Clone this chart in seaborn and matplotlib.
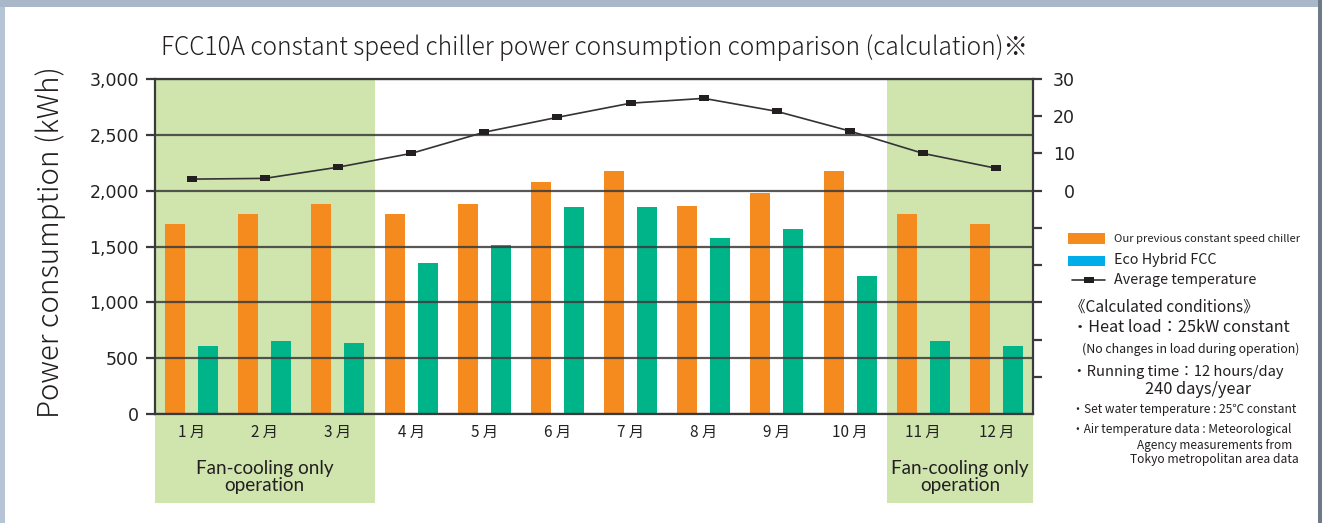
import numpy as np
import pandas as pd
import matplotlib
matplotlib.use("Agg")
import matplotlib.pyplot as plt
from matplotlib.patches import Rectangle
from matplotlib.lines import Line2D
from matplotlib.ticker import FuncFormatter, FixedLocator
import seaborn as sns

# ---------------- data ----------------
months = ["1月", "2月", "3月", "4月", "5月", "6月", "7月", "8月", "9月", "10月", "11月", "12月"]
prev_chiller = [1700, 1790, 1880, 1790, 1885, 2080, 2180, 1865, 1980, 2180, 1795, 1700]
eco_hybrid = [610, 650, 640, 1355, 1515, 1850, 1850, 1580, 1660, 1240, 650, 610]
avg_temp = [3.1, 3.3, 6.3, 10.0, 15.7, 19.7, 23.5, 24.8, 21.3, 16.0, 10.0, 6.0]
series_names = ["Our previous constant speed chiller", "Eco Hybrid FCC"]
temp_name = "Average temperature"
left_ticks = [0, 500, 1000, 1500, 2000, 2500, 3000]
right_ticks = [-50, -40, -30, -20, -10, 0, 10, 20, 30]
fan_only_months = [["1月", "3月"], ["11月", "12月"]]

# ---------------- style ----------------
sns.set_style("white")
CJK = ["Noto Sans CJK JP", "DejaVu Sans"]
plt.rcParams["font.family"] = CJK
plt.rcParams["axes.unicode_minus"] = False

ORANGE = "#f58a1f"
GREEN = "#00b48a"
BLUE = "#00ade9"
SHADE = "#d0e5ae"
DARK = "#231f20"
GRID = "#3a3a3a"

W, H = 1322, 523
fig = plt.figure(figsize=(W / 100, H / 100), dpi=100)
fig.patch.set_facecolor("white")


def px(x, y):
    return (x / W, 1 - y / H)


# frame strips of the screenshot
fig.add_artist(Rectangle((0, 0), 5 / W, 1, transform=fig.transFigure, color="#b6c5d5", lw=0, zorder=-5))
fig.add_artist(Rectangle((0, 1 - 7 / H), 1, 7 / H, transform=fig.transFigure, color="#a9b8c8", lw=0, zorder=-5))
fig.add_artist(Rectangle((1318 / W, 0), 4 / W, 1, transform=fig.transFigure, color="#6e7a88", lw=0, zorder=-5))

ax_l, ax_r, ax_t, ax_b = 155, 1033, 79, 414
ax = fig.add_axes([ax_l / W, 1 - ax_b / H, (ax_r - ax_l) / W, (ax_b - ax_t) / H])
ax.patch.set_alpha(0)

df = pd.DataFrame({
    "month": months * 2,
    "value": prev_chiller + eco_hybrid,
    "series": [series_names[0]] * len(months) + [series_names[1]] * len(months),
})
sns.barplot(data=df, x="month", y="value", hue="series", order=months,
            hue_order=series_names, palette=[ORANGE, GREEN], saturation=1,
            width=0.9, gap=0.39, ax=ax, legend=False, errorbar=None, zorder=1,
            edgecolor="none", linewidth=0)

# fan-cooling-only shaded zones (extend below the axis)
ext = -(503 - ax_b) / (ax_b - ax_t)
for first, last in fan_only_months:
    i0, i1 = months.index(first), months.index(last)
    span = ax.axvspan(i0 - 0.5, i1 + 0.5, ymin=ext, ymax=1, color=SHADE, lw=0, zorder=0)
    span.set_clip_on(False)
    ax.text((i0 + i1) / 2, -0.187, "Fan-cooling only\noperation", transform=ax.get_xaxis_transform(),
            ha="center", va="center", fontsize=13.6, family=["Lato", "DejaVu Sans"], color="#231f20",
            linespacing=0.98, zorder=3)

ax.set_ylim(0, 3000)
ax.yaxis.set_major_locator(FixedLocator(left_ticks))
ax.yaxis.set_major_formatter(FuncFormatter(lambda v, p: f"{v:,.0f}"))
ax.set_xticks(range(len(months)))
ax.set_xticklabels([m.replace("月", " 月") for m in months])
ax.set_xlabel("")
ax.set_ylabel("")
ax.yaxis.grid(True, color=GRID, lw=1.6, alpha=0.85)
ax.xaxis.grid(False)
ax.set_axisbelow(False)
ax.tick_params(axis="y", direction="out", length=6.5, width=1.6, color=GRID, pad=5,
               labelsize=12.5, labelcolor="#222")
ax.tick_params(axis="x", length=0, pad=7.5, labelsize=11, labelcolor="#222")
for lbl in ax.get_yticklabels():
    lbl.set_family(["DejaVu Sans"])
for side in ["left", "bottom", "top"]:
    ax.spines[side].set_visible(True)
    ax.spines[side].set_color(GRID)
    ax.spines[side].set_linewidth(1.6)
ax.spines["right"].set_visible(False)

# temperature line on secondary axis
ax2 = ax.twinx()
rect_marker = [(-1, -0.5), (1, -0.5), (1, 0.5), (-1, 0.5), (-1, -0.5)]
sns.lineplot(x=np.arange(len(months)), y=avg_temp, ax=ax2, color="#333333", lw=1.2,
             marker=rect_marker, markersize=7.5, markerfacecolor=DARK, markeredgewidth=0, zorder=5)
ax2.set_ylim(-60, 30)
ax2.yaxis.set_major_locator(FixedLocator(right_ticks))
ax2.yaxis.set_major_formatter(FuncFormatter(lambda v, p: f"{v:.0f}" if v >= 0 else ""))
ax2.tick_params(axis="y", direction="out", length=6.5, width=1.6, color=GRID, pad=23.8,
                labelsize=12.5, labelcolor="#222")
for lbl in ax2.get_yticklabels():
    lbl.set_ha("right")
    lbl.set_family(["DejaVu Sans"])
ax2.set_ylabel("")
for side in ["left", "bottom", "top"]:
    ax2.spines[side].set_visible(False)
ax2.spines["right"].set_visible(True)
ax2.spines["right"].set_color(GRID)
ax2.spines["right"].set_linewidth(1.6)
ax.set_xlim(-0.5, len(months) - 0.5)

# titles
fig.text(*px(594, 48), "FCC10A constant speed chiller power consumption comparison (calculation)※",
         ha="center", va="center", fontsize=17.6, color="#231f20", fontweight="light")
fig.text(*px(51, 242), "Power consumption (kWh)", rotation=90, ha="center", va="center",
         fontsize=21.2, color="#231f20", fontweight="light")

# legend (manual)
fig.add_artist(Rectangle(px(1068, 244), 37 / W, 11 / H, transform=fig.transFigure, color=ORANGE, lw=0))
fig.add_artist(Rectangle(px(1068, 266), 37 / W, 10 / H, transform=fig.transFigure, color=BLUE, lw=0))
lx0, ly = px(1072, 280)
lx1, _ = px(1105, 280)
fig.add_artist(Line2D([lx0, lx1], [ly, ly], transform=fig.transFigure, color="#333333", lw=1.2))
fig.add_artist(Line2D([(lx0 + lx1) / 2], [ly], transform=fig.transFigure, marker=rect_marker,
                      markersize=7.5, markerfacecolor=DARK, markeredgewidth=0, ls="none"))

fig.text(*px(1114, 239), series_names[0], ha="left", va="center", fontsize=8.1, color="#231f20")
fig.text(*px(1114, 260), series_names[1], ha="left", va="center", fontsize=10.3, color="#231f20")
fig.text(*px(1114, 280), temp_name, ha="left", va="center", fontsize=10.3, color="#231f20")

notes = [
    (1070, 307, "《Calculated conditions》", 11.2),
    (1072, 328, "・Heat load：25kW constant", 11.7),
    (1082, 349, "(No changes in load during operation)", 8.9),
    (1072, 372, "・Running time：12 hours/day", 10.6),
    (1145, 389, "240 days/year", 11.8),
    (1072, 409, "・Set water temperature : 25℃ constant", 8.6),
    (1072, 430, "・Air temperature data : Meteorological", 8.5),
    (1137, 445, "Agency measurements from", 8.5),
    (1130, 460, "Tokyo metropolitan area data", 8.7),
]
for x, y, s, fs in notes:
    fig.text(*px(x, y), s, ha="left", va="center", fontsize=fs, color="#231f20")

fig.savefig("out.png", dpi=100)
